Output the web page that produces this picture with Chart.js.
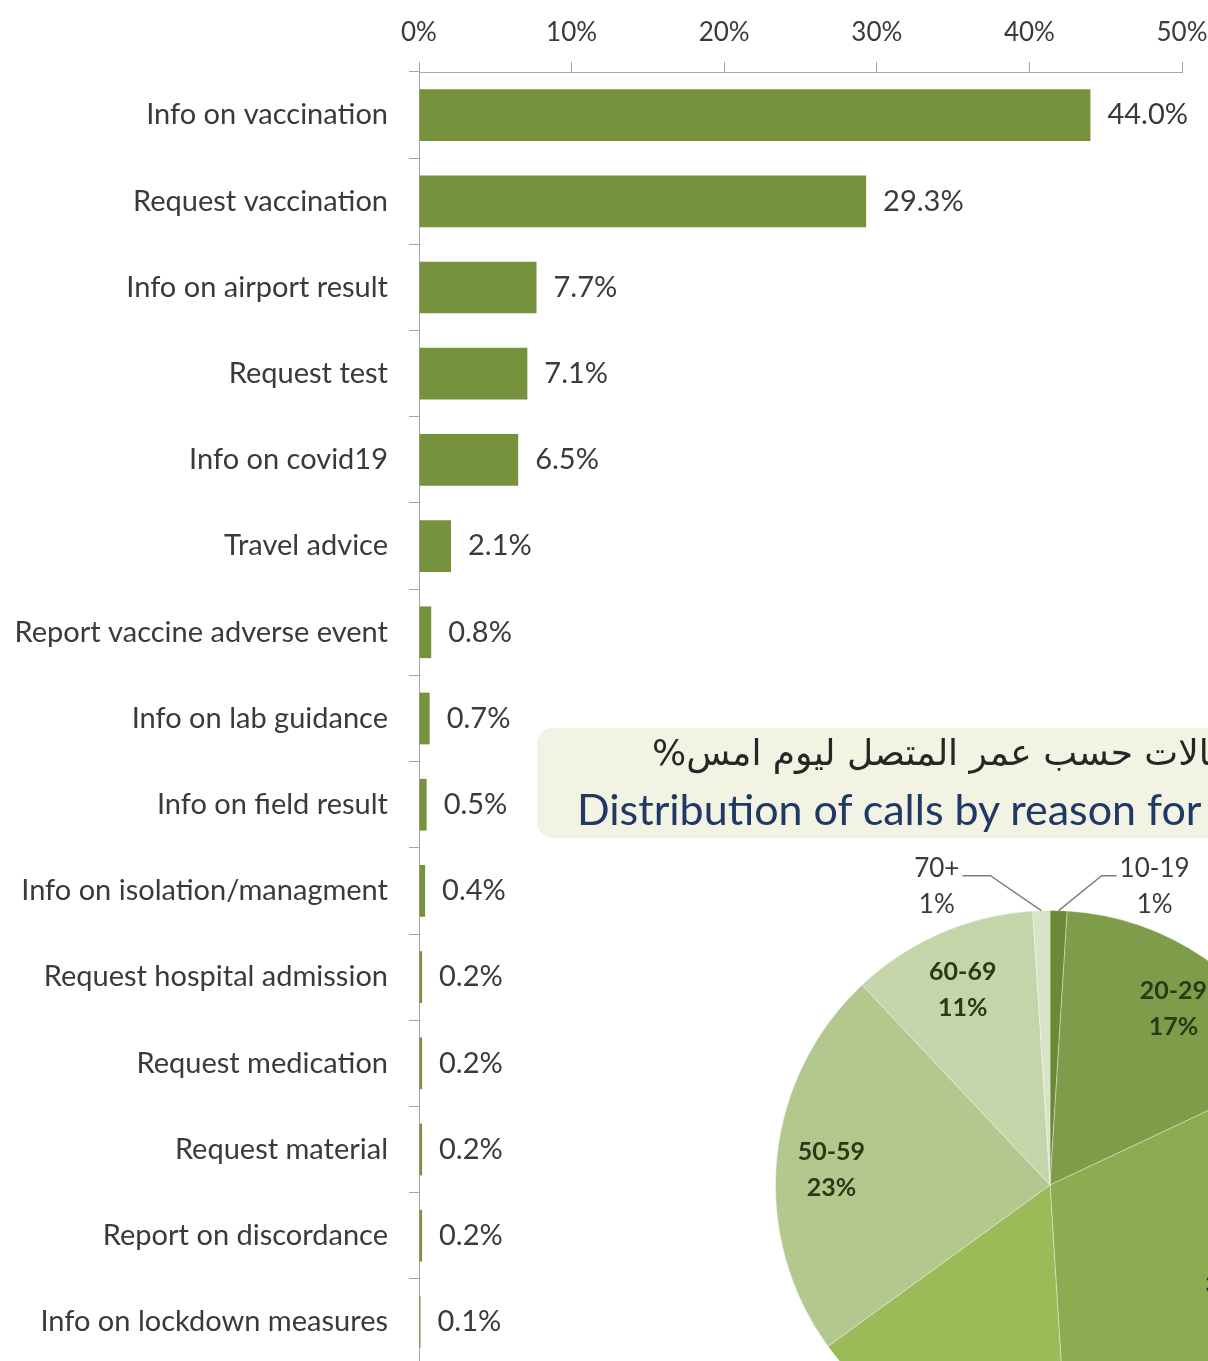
<!DOCTYPE html>
<html>
<head>
<meta charset="utf-8">
<script src="https://cdn.jsdelivr.net/npm/chart.js@4.4.1/dist/chart.umd.min.js"></script>
<style>
  html, body { margin: 0; padding: 0; background: #fff; overflow: hidden; }
  #page { position: relative; width: 1208px; height: 1361px; overflow: hidden; }
  #barChart { position: absolute; left: 0; top: 0; }
  #pieChart { position: absolute; left: 750px; top: 850px; }
  #titleBox {
    position: absolute; left: 537px; top: 728px; width: 760px; height: 110px;
    background: #f3f3e3; border-radius: 16px;
  }
  #titleAr {
    position: absolute; left: 115px; top: 4px; white-space: nowrap;
    font-family: "DejaVu Sans", sans-serif; font-size: 36px; color: #262626;
  }
  #titleEn {
    position: absolute; left: 40px; top: 55px; white-space: nowrap;
    font-family: Lato, sans-serif; font-size: 43px; color: #1f3864;
  }
</style>
</head>
<body>
<div id="page">
  <canvas id="barChart" width="1208" height="1370"></canvas>
  <div id="titleBox">
    <span id="titleAr" dir="rtl">توزيع الحالات حسب عمر المتصل ليوم امس%</span>
    <span id="titleEn">Distribution of calls by reason for</span>
  </div>
  <canvas id="pieChart" width="600" height="670"></canvas>
</div>
<script>
// bar chart: reason for call
const categories = [
    'Info on vaccination', 'Request vaccination', 'Info on airport result', 'Request test',
    'Info on covid19', 'Travel advice', 'Report vaccine adverse event', 'Info on lab guidance',
    'Info on field result', 'Info on isolation/managment', 'Request hospital admission',
    'Request medication', 'Request material', 'Report on discordance', 'Info on lockdown measures'
];
const shares = [44.0, 29.3, 7.7, 7.1, 6.5, 2.1, 0.8, 0.7, 0.5, 0.4, 0.2, 0.2, 0.2, 0.2, 0.1];
const xTicks = [0, 10, 20, 30, 40, 50];

// pie chart: caller age
const ageGroups = ['10-19', '20-29', '30-39', '40-49', '50-59', '60-69', '70+'];
const ageShares = [1, 17, 31, 16, 23, 11, 1];
const pieColors = ['#6b8a35', '#7f9c4a', '#8dab51', '#9bbb59', '#b2c88e', '#c5d5aa', '#d8e3c8'];

const labelFont = { family: 'Lato', size: 29 };
const textColor = '#3a3a3a';
const axisColor = '#a6a6a6';

const valueLabels = {
    id: 'valueLabels',
    afterDatasetsDraw(chart) {
        const ctx = chart.ctx;
        const meta = chart.getDatasetMeta(0);
        ctx.save();
        ctx.font = '29px Lato';
        ctx.fillStyle = textColor;
        ctx.textAlign = 'left';
        ctx.textBaseline = 'middle';
        meta.data.forEach((bar, i) => {
            ctx.fillText(shares[i].toFixed(1) + '%', bar.x + 17, bar.y);
        });
        ctx.restore();
    }
};

new Chart(document.getElementById('barChart'), {
    type: 'bar',
    data: {
        labels: categories,
        datasets: [{
            data: shares,
            backgroundColor: '#76923c',
            barPercentage: 0.6,
            categoryPercentage: 1
        }]
    },
    options: {
        indexAxis: 'y',
        responsive: false,
        animation: false,
        layout: { padding: { left: 0, right: 26, top: 0, bottom: 5 } },
        plugins: { legend: { display: false }, tooltip: { enabled: false } },
        scales: {
            x: {
                position: 'top',
                min: 0,
                max: 50,
                afterBuildTicks: s => { s.ticks = xTicks.map(v => ({ value: v })); },
                afterFit: s => { s.height = 72; s.paddingLeft = 0; s.paddingRight = 0; },
                grid: { drawOnChartArea: false, tickLength: 10, color: axisColor },
                border: { color: axisColor },
                ticks: { callback: v => v + '%', font: { family: 'Lato', size: 26 }, color: textColor, padding: 14, maxRotation: 0 }
            },
            y: {
                afterFit: s => { s.width = 419; s.paddingTop = 0; s.paddingBottom = 0; },
                grid: { offset: true, drawOnChartArea: false, tickLength: 10, color: axisColor },
                border: { color: axisColor },
                ticks: { font: labelFont, color: textColor, padding: 21, autoSkip: false }
            }
        }
    },
    plugins: [valueLabels]
});

const pieLabels = {
    id: 'pieLabels',
    afterDatasetsDraw(chart) {
        const ctx = chart.ctx;
        const meta = chart.getDatasetMeta(0);
        ctx.save();
        ctx.textAlign = 'center';
        ctx.textBaseline = 'middle';
        meta.data.forEach((arc, i) => {
            const { x, y, startAngle, endAngle, outerRadius } = arc.getProps(['x', 'y', 'startAngle', 'endAngle', 'outerRadius'], true);
            const mid = (startAngle + endAngle) / 2;
            const pct = ageShares[i] + '%';
            if (ageShares[i] >= 3) {
                const lx = x + Math.cos(mid) * outerRadius * 0.8;
                const ly = y + Math.sin(mid) * outerRadius * 0.8;
                ctx.font = 'bold 25px Lato';
                ctx.fillStyle = '#2b3a14';
                ctx.fillText(ageGroups[i], lx, ly - 12);
                ctx.fillText(pct, lx, ly + 24);
            } else {
                const side = Math.cos(mid) < 0 ? -1 : 1;
                const ax = x + Math.cos(mid) * outerRadius;
                const ay = y + Math.sin(mid) * outerRadius;
                const ex = ax + side * (side < 0 ? 51 : 43);
                const ey = ay - 35;
                const hx = ex + side * (side < 0 ? 28 : 15);
                ctx.strokeStyle = '#7f7f7f';
                ctx.lineWidth = 1.5;
                ctx.beginPath();
                ctx.moveTo(ax, ay);
                ctx.lineTo(ex, ey);
                ctx.lineTo(hx, ey);
                ctx.stroke();
                ctx.font = '26px Lato';
                const w = ctx.measureText(ageGroups[i]).width;
                const tx = hx + side * (3 + w / 2);
                ctx.fillStyle = textColor;
                ctx.fillText(ageGroups[i], tx, ey - 7);
                ctx.fillText(pct, tx, ey + 29);
            }
        });
        ctx.restore();
    }
};

new Chart(document.getElementById('pieChart'), {
    type: 'pie',
    data: {
        labels: ageGroups,
        datasets: [{
            data: ageShares,
            backgroundColor: pieColors,
            borderColor: 'rgba(255,255,255,0.35)',
            borderWidth: 1
        }]
    },
    options: {
        responsive: false,
        animation: false,
        layout: { padding: { left: 25, right: 25, top: 60, bottom: 60 } },
        plugins: { legend: { display: false }, tooltip: { enabled: false } }
    },
    plugins: [pieLabels]
});
</script>
</body>
</html>
